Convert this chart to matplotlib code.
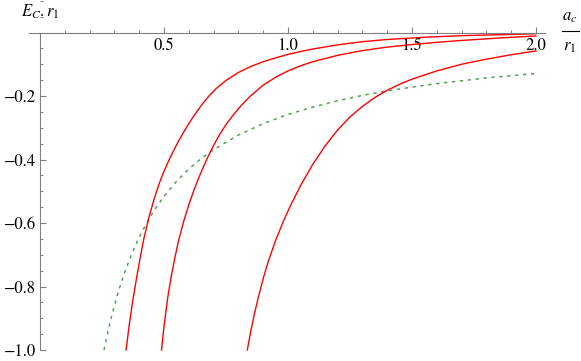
import matplotlib
matplotlib.use("Agg")
import matplotlib.pyplot as plt
from matplotlib.lines import Line2D
from matplotlib.ticker import MultipleLocator

plt.rcParams['font.family'] = ['STIXGeneral', 'DejaVu Serif']
plt.rcParams['mathtext.fontset'] = 'stix'

# curves
x1 = [0.347, 0.36, 0.375, 0.39, 0.405, 0.42, 0.44, 0.46, 0.48, 0.50, 0.52, 0.54, 0.56,
      0.58, 0.60, 0.62, 0.65, 0.68, 0.71, 0.75, 0.80, 0.85, 0.90, 0.95, 1.00, 1.05,
      1.10, 1.20, 1.30, 1.40, 1.55, 1.70, 1.85, 2.00]
y1 = [-1.00, -0.92, -0.84, -0.77, -0.705, -0.645, -0.58, -0.525, -0.477, -0.437, -0.402,
      -0.370, -0.340, -0.313, -0.287, -0.263, -0.230, -0.201, -0.177, -0.151, -0.126,
      -0.107, -0.092, -0.080, -0.069, -0.060, -0.052, -0.039, -0.029, -0.022, -0.015,
      -0.010, -0.007, -0.004]

x2 = [0.490, 0.50, 0.515, 0.53, 0.545, 0.56, 0.58, 0.60, 0.62, 0.64, 0.66, 0.68, 0.70,
      0.72, 0.75, 0.78, 0.81, 0.85, 0.90, 0.95, 1.00, 1.05, 1.10, 1.20, 1.30, 1.40,
      1.50, 1.60, 1.70, 1.80, 1.90, 2.00]
y2 = [-1.00, -0.925, -0.835, -0.765, -0.705, -0.652, -0.593, -0.543, -0.498, -0.458,
      -0.421, -0.387, -0.356, -0.327, -0.290, -0.259, -0.231, -0.199, -0.166, -0.141,
      -0.121, -0.105, -0.092, -0.072, -0.057, -0.046, -0.038, -0.031, -0.025, -0.020,
      -0.015, -0.011]

x3 = [0.836, 0.85, 0.865, 0.88, 0.90, 0.92, 0.95, 0.98, 1.01, 1.05, 1.10, 1.15, 1.20,
      1.25, 1.30, 1.35, 1.40, 1.45, 1.50, 1.60, 1.70, 1.80, 1.90, 2.00]
y3 = [-1.00, -0.94, -0.885, -0.835, -0.775, -0.722, -0.655, -0.597, -0.545, -0.483,
      -0.415, -0.357, -0.307, -0.266, -0.233, -0.205, -0.182, -0.163, -0.147, -0.121,
      -0.100, -0.084, -0.070, -0.058]

xg = [0.258, 0.27, 0.285, 0.30, 0.32, 0.34, 0.36, 0.38, 0.40, 0.43, 0.46, 0.50, 0.55,
      0.60, 0.65, 0.70, 0.80, 0.90, 1.00, 1.10, 1.20, 1.30, 1.40, 1.50, 1.60, 1.70,
      1.80, 1.90, 2.00]
yg = [-1.0, -0.955, -0.905, -0.86, -0.806, -0.759, -0.717, -0.679, -0.645, -0.600,
      -0.561, -0.516, -0.469, -0.430, -0.397, -0.369, -0.323, -0.287, -0.258, -0.235,
      -0.215, -0.198, -0.184, -0.172, -0.161, -0.152, -0.143, -0.136, -0.129]

fig = plt.figure(figsize=(5.81, 3.61), dpi=100)
ax = fig.add_axes([0, 0, 1, 1])

ax.plot(xg, yg, color='#5a9f5a', lw=1.1, linestyle=(0, (2.2, 3.0)))
for xs, ys in [(x1, y1), (x2, y2), (x3, y3)]:
    ax.plot(xs, ys, color='red', lw=1.0)

ax.set_xlim(-40 / 248, 541 / 248)
ax.set_ylim(-328.5 / 317.5, 32.5 / 317.5)

axis_gray = '#808080'
ax.spines['top'].set_visible(False)
ax.spines['right'].set_visible(False)
ax.spines['bottom'].set_position(('data', 0))
ax.spines['left'].set_position(('data', 0))
ax.spines['bottom'].set_bounds(-0.044, 2.036)
ax.spines['left'].set_bounds(-1.0, 0)
for s in ['bottom', 'left']:
    ax.spines[s].set_color(axis_gray)
    ax.spines[s].set_linewidth(0.8)

ax.set_xticks([0.5, 1.0, 1.5, 2.0])
ax.set_xticklabels(['0.5', '1.0', '1.5', '2.0'])
ax.set_xticks([i / 10 for i in range(1, 21) if i % 5], minor=True)
ax.set_yticks([-1.0, -0.8, -0.6, -0.4, -0.2])
ax.set_yticklabels(['\u22121.0', '\u22120.8', '\u22120.6', '\u22120.4', '\u22120.2'])
ax.yaxis.set_minor_locator(MultipleLocator(0.05))

ax.tick_params(axis='x', which='both', direction='in', color=axis_gray, labelsize=12, pad=4)
ax.tick_params(axis='y', which='both', direction='in', color=axis_gray, labelsize=12, pad=3)
ax.tick_params(which='major', length=4, width=0.8)
ax.tick_params(which='minor', length=2.5, width=0.7)

ax.text(21 / 581, 1 - 12 / 361, r'$E_C.r_1$', transform=fig.transFigure,
        fontsize=12, ha='left', va='center')
ax.text(570 / 581, 1 - 17 / 361, r'$a_c$', transform=fig.transFigure,
        fontsize=12, ha='center', va='center')
ax.text(570 / 581, 1 - 47 / 361, r'$r_1$', transform=fig.transFigure,
        fontsize=12, ha='center', va='center')
fig.add_artist(Line2D([562 / 581, 579 / 581], [1 - 31 / 361, 1 - 31 / 361],
                      color='black', lw=0.8))

fig.savefig('out.png', dpi=100)
